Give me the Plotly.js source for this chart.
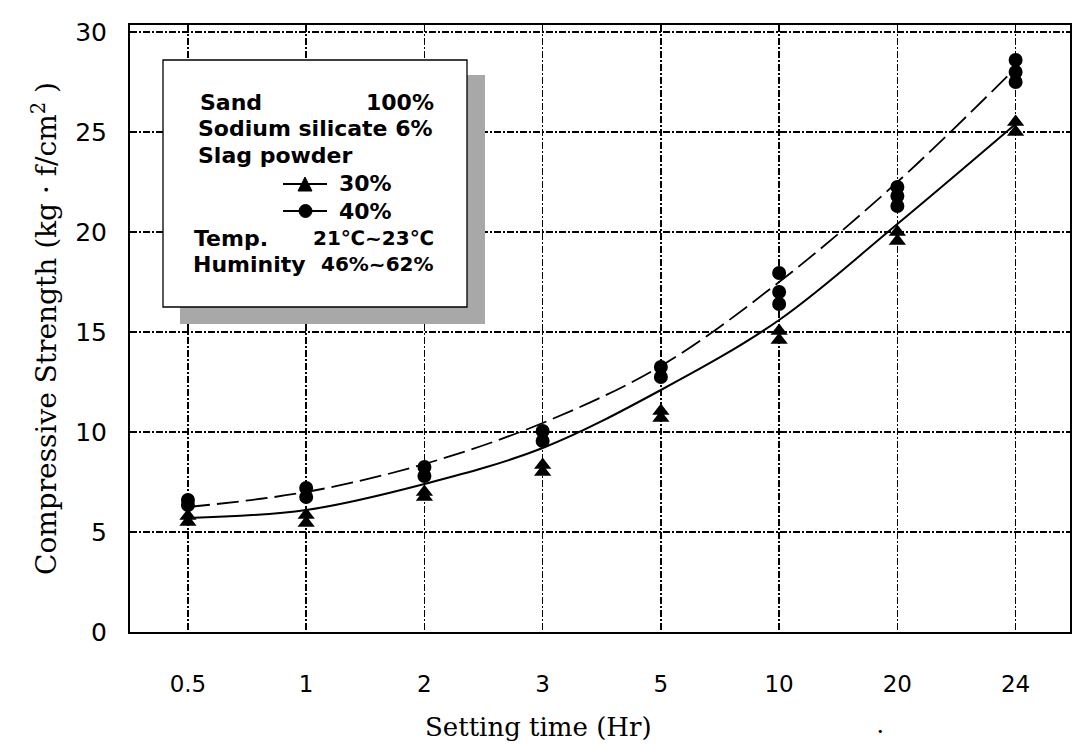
<!DOCTYPE html>
<html>
<head>
<meta charset="utf-8">
<script src="https://cdn.plot.ly/plotly-3.0.1.min.js"></script>
<style>html,body{margin:0;padding:0;background:#fff;}#chart{width:1078px;height:749px;}</style>
</head>
<body>
<div id="chart"></div>
<script>
// ---- data ----
const categories = ["0.5", "1", "2", "3", "5", "10", "20", "24"];

// measured points, slag powder 30% (triangles)
const slag30X = ["0.5","0.5","1","1","2","2","3","3","5","5","10","10","20","20","24","24"];
const slag30Y = [5.5, 5.8, 5.45, 5.85, 6.75, 7.0, 8.0, 8.35, 10.7, 11.05, 14.6, 15.05, 19.55, 20.0, 25.0, 25.5];

// measured points, slag powder 40% (circles)
const slag40X = ["0.5","0.5","1","1","2","2","3","3","5","5","10","10","10","20","20","20","24","24","24"];
const slag40Y = [6.35, 6.6, 6.75, 7.2, 7.8, 8.25, 9.55, 10.05, 12.75, 13.25, 16.4, 17.0, 17.95, 21.3, 21.8, 22.25, 27.5, 28.0, 28.6];

// fitted curves
const fit30 = [5.7, 6.1, 7.4, 9.2, 12.1, 15.6, 20.4, 25.4];
const fit40 = [6.25, 7.0, 8.4, 10.45, 13.3, 17.5, 22.5, 28.2];

const yTicks = [0, 5, 10, 15, 20, 25, 30];

// axis titles
const xTitle = "Setting time (Hr)";
const yTitle = "Compressive Strength (kg · f/cm<sup>2</sup> )";

// info box text
const infoLeft = ["Sand", "Sodium silicate 6%", "Slag powder", "Temp.", "Huminity"];
const infoRight = ["100%", "", "", "21℃~23℃", "46%~62%"];
const seriesLabels = ["30%", "40%"];

// ---- geometry helpers (pixel -> paper) ----
const W = 1078, H = 749;
const M = {l: 130, r: 8, t: 25, b: 117};
const PW = W - M.l - M.r, PH = H - M.t - M.b;
const px = v => (v - M.l) / PW;
const py = v => (H - M.b - v) / PH;

const idx = c => categories.indexOf(c);

const traces = [
  {x: categories.map((c,i)=>i), y: fit30, mode: 'lines', line: {color: '#000', width: 2, shape: 'spline', smoothing: 1}, hoverinfo: 'skip', showlegend: false},
  {x: categories.map((c,i)=>i), y: fit40, mode: 'lines', line: {color: '#000', width: 1.8, shape: 'spline', smoothing: 1, dash: '22px,7px'}, hoverinfo: 'skip', showlegend: false},
  {x: slag30X.map(idx), y: slag30Y, mode: 'markers', marker: {symbol: 'triangle-up', size: 15, color: '#000'}, showlegend: false},
  {x: slag40X.map(idx), y: slag40Y, mode: 'markers', marker: {symbol: 'circle', size: 14, color: '#000'}, showlegend: false}
];

const boxFont = {family: 'DejaVu Sans', size: 22, color: '#000', weight: 'bold'};
const boxFontR = {family: 'DejaVu Sans', size: 20, color: '#000', weight: 'bold'};
const shapes = [
  // shadow
  {type: 'rect', xref: 'paper', yref: 'paper', x0: px(180), x1: px(485), y0: py(75), y1: py(324), fillcolor: '#a8a8a8', line: {width: 0}, layer: 'above'},
  // box
  {type: 'rect', xref: 'paper', yref: 'paper', x0: px(163), x1: px(467), y0: py(60), y1: py(307), fillcolor: '#ffffff', line: {color: '#000', width: 1.3}, layer: 'above'},
  // legend line 30%
  {type: 'line', xref: 'paper', yref: 'paper', x0: px(283), x1: px(327), y0: py(184), y1: py(184), line: {color: '#000', width: 2}, layer: 'above'},
  {type: 'path', xref: 'paper', yref: 'paper', path: `M ${px(298)} ${py(191)} L ${px(312)} ${py(191)} L ${px(305)} ${py(177)} Z`, fillcolor: '#000', line: {color: '#000', width: 1}, layer: 'above'},
  // legend line 40%
  {type: 'line', xref: 'paper', yref: 'paper', x0: px(283), x1: px(327), y0: py(211), y1: py(211), line: {color: '#000', width: 2}, layer: 'above'},
  {type: 'circle', xref: 'paper', yref: 'paper', x0: px(299), x1: px(312), y0: py(217.5), y1: py(204.5), fillcolor: '#000', line: {color: '#000', width: 1}, layer: 'above'}
];

const leftRows = [102, 129, 155, 238, 264];
const leftX = [198, 196, 196, 192, 191];
const annotations = [];
infoLeft.forEach((t, i) => {
  annotations.push({xref: 'paper', yref: 'paper', x: px(leftX[i]), y: py(leftRows[i]), text: t, showarrow: false, xanchor: 'left', yanchor: 'middle', font: boxFont});
  if (infoRight[i]) {
    annotations.push({xref: 'paper', yref: 'paper', x: px(436), y: py(leftRows[i]), text: infoRight[i], showarrow: false, xanchor: 'right', yanchor: 'middle', font: i === 0 ? boxFont : boxFontR});
  }
});
seriesLabels.forEach((t, i) => {
  annotations.push({xref: 'paper', yref: 'paper', x: px(337), y: py([184, 211][i]), text: t, showarrow: false, xanchor: 'left', yanchor: 'middle', font: boxFont});
});
// x axis title (sits left of the plot centre in the reference)
annotations.push({xref: 'paper', yref: 'paper', x: px(538), y: py(727), text: xTitle, showarrow: false, xanchor: 'center', yanchor: 'middle', font: {family: 'DejaVu Serif', size: 26, color: '#000'}});
// stray scan mark next to the axis title
annotations.push({xref: 'paper', yref: 'paper', x: px(880), y: py(731), text: '•', showarrow: false, xanchor: 'center', yanchor: 'middle', font: {family: 'DejaVu Sans', size: 11, color: '#000'}});

const layout = {
  width: W, height: H,
  margin: M,
  paper_bgcolor: '#fff', plot_bgcolor: '#fff',
  showlegend: false,
  xaxis: {
    range: [-0.49, 7.46],
    tickmode: 'array', tickvals: categories.map((c,i)=>i), ticktext: categories,
    showgrid: true, gridcolor: '#000', gridwidth: 1.4, griddash: '7px,2px,2px,2px',
    showline: true, linecolor: '#000', linewidth: 2, mirror: true,
    zeroline: false, ticks: '', ticklabelstandoff: 30,
    tickfont: {family: 'DejaVu Sans', size: 23, color: '#000'}
  },
  yaxis: {
    range: [0, 30.35],
    tickmode: 'array', tickvals: yTicks,
    showgrid: true, gridcolor: '#000', gridwidth: 1.4, griddash: '7px,2px,2px,2px',
    showline: true, linecolor: '#000', linewidth: 2, mirror: true,
    zeroline: false, ticks: '', ticklabelstandoff: 16,
    tickfont: {family: 'DejaVu Sans', size: 25, color: '#000'},
    title: {text: yTitle, font: {family: 'DejaVu Serif', size: 28, color: '#000'}, standoff: 10}
  },
  shapes: shapes,
  annotations: annotations
};

Plotly.newPlot('chart', traces, layout, {displayModeBar: false, staticPlot: true});
</script>
</body>
</html>
